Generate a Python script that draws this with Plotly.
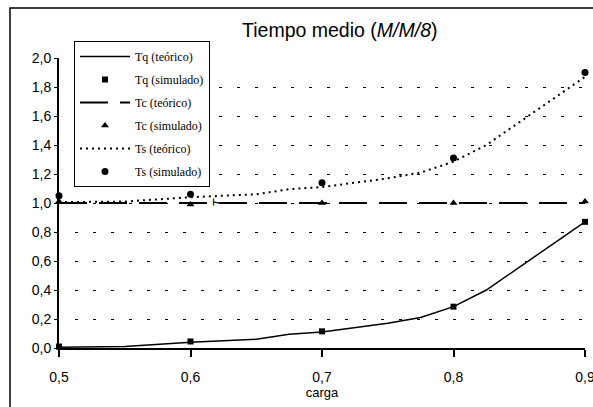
"""Tiempo medio en una cola M/M/8: valores teóricos frente a simulados."""

import plotly.graph_objects as go

# carga (rho) para las curvas teóricas
CARGA_TEO = [0.5, 0.55, 0.6, 0.65, 0.675, 0.7, 0.75, 0.775, 0.8, 0.825, 0.9]
TQ_TEO = [0.006, 0.01, 0.04, 0.06, 0.095, 0.11, 0.17, 0.21, 0.285, 0.40, 0.87]
TC_TEO = [1.0] * len(CARGA_TEO)
TS_TEO = [1.006, 1.01, 1.04, 1.06, 1.095, 1.11, 1.17, 1.21, 1.285, 1.40, 1.87]

# puntos simulados
CARGA_SIM = [0.5, 0.6, 0.7, 0.8, 0.9]
TQ_SIM = [0.01, 0.045, 0.115, 0.285, 0.87]
TC_SIM = [1.01, 0.99, 1.0, 1.0, 1.01]
TS_SIM = [1.05, 1.06, 1.14, 1.31, 1.90]

X_TICKS = [0.5, 0.6, 0.7, 0.8, 0.9]
Y_TICKS = [0.0, 0.2, 0.4, 0.6, 0.8, 1.0, 1.2, 1.4, 1.6, 1.8, 2.0]

BLACK = "#000000"
# dotted grid, first dash ~16px right of the y axis like the original
GRID_DASH = "0px,16px," + ",".join(["3px,15px"] * 30)


def main() -> None:
    fig = go.Figure()
    fig.add_trace(go.Scatter(x=CARGA_TEO, y=TQ_TEO, mode="lines", name="Tq (teórico)", legendgroup="a",
                             line=dict(color=BLACK, width=1.5), cliponaxis=False))
    fig.add_trace(go.Scatter(x=CARGA_SIM, y=TQ_SIM, mode="markers", name="Tq (simulado)", legendgroup="b",
                             marker=dict(symbol="square", size=6, color=BLACK), cliponaxis=False))
    fig.add_trace(go.Scatter(x=CARGA_TEO, y=TC_TEO, mode="lines", name="Tc (teórico)", legendgroup="c",
                             line=dict(color=BLACK, width=2, dash="28px,12px"), cliponaxis=False))
    fig.add_trace(go.Scatter(x=CARGA_SIM, y=TC_SIM, mode="markers", name="Tc (simulado)", legendgroup="d",
                             marker=dict(symbol="triangle-up", size=7, color=BLACK), cliponaxis=False))
    fig.add_trace(go.Scatter(x=CARGA_TEO, y=TS_TEO, mode="lines", name="Ts (teórico)", legendgroup="e",
                             line=dict(color=BLACK, width=2, dash="2px,4px"), cliponaxis=False))
    fig.add_trace(go.Scatter(x=CARGA_SIM, y=TS_SIM, mode="markers", name="Ts (simulado)", legendgroup="f",
                             marker=dict(symbol="circle", size=7, color=BLACK), cliponaxis=False))

    # marco exterior del gráfico (recortado por la derecha y por abajo)
    fig.add_shape(type="rect", xref="paper", yref="paper",
                  x0=-49 / 526, x1=1.2, y0=-0.4, y1=340 / 290,
                  line=dict(color=BLACK, width=1.5), layer="above")

    fig.update_layout(
        width=593,
        height=407,
        template="plotly_white",
        separators=",.",
        margin=dict(l=59, r=8, t=58, b=59, autoexpand=False),
        paper_bgcolor="white",
        plot_bgcolor="white",
        font=dict(family="Liberation Sans, Arial", size=14, color=BLACK),
        title=dict(text="Tiempo medio (<i>M/M/8</i>)", x=0.573, xanchor="center",
                   yref="container", y=0.925, yanchor="middle", font=dict(size=19.5, color=BLACK)),
        showlegend=True,
        legend=dict(
            xref="container", yref="container",
            x=74 / 593, y=1 - 41 / 407, xanchor="left", yanchor="top",
            bgcolor="white", bordercolor=BLACK, borderwidth=1,
            font=dict(family="Liberation Serif, Times New Roman", size=12, color=BLACK),
            traceorder="grouped", tracegroupgap=4, itemwidth=50,
        ),
        xaxis=dict(
            range=[0.5, 0.9], tickvals=X_TICKS, tickformat=".1f", automargin=False,
            ticklabeloverflow="allow",
            showline=True, linecolor=BLACK, linewidth=2,
            ticks="outside", ticklen=7, tickcolor=BLACK, tickwidth=1.5,
            ticklabelstandoff=8,
            showgrid=False, zeroline=False,
            title=dict(text="carga", standoff=0, font=dict(size=13)),
        ),
        yaxis=dict(
            range=[0, 2.0], tickvals=Y_TICKS, tickformat=".1f", automargin=False,
            ticklabeloverflow="allow",
            showline=True, linecolor=BLACK, linewidth=2,
            ticks="outside", ticklen=3, tickcolor=BLACK, tickwidth=1,
            ticklabelstandoff=0,
            showgrid=True, gridcolor=BLACK, gridwidth=1, griddash=GRID_DASH,
            zeroline=False,
            title=dict(text="<i>T</i>", standoff=2, font=dict(size=13)),
        ),
    )

    # the browser's default 8px body margin would shift the whole figure
    fig.write_html("out.html", config={"displayModeBar": False},
                   post_script="document.body.style.margin='0';")


if __name__ == "__main__":
    main()
